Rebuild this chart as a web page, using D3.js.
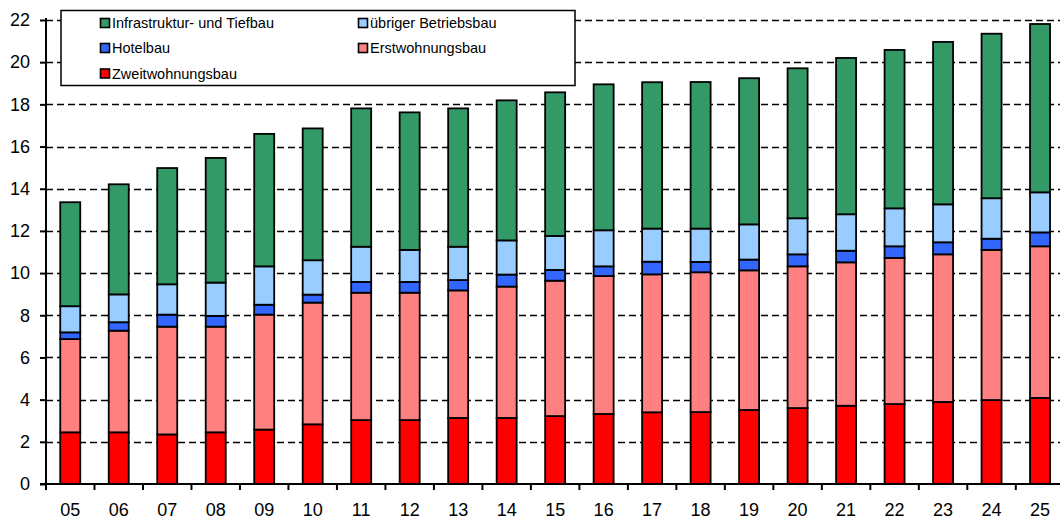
<!DOCTYPE html>
<html>
<head>
<meta charset="utf-8">
<script src="https://cdn.jsdelivr.net/npm/d3@7"></script>
<style>
  html, body { margin: 0; padding: 0; background: #fff; }
  svg { display: block; }
</style>
</head>
<body>
<svg id="chart" width="1060" height="520"></svg>
<script>
// Jahre (Kategorien)
const years = ["05","06","07","08","09","10","11","12","13","14","15","16","17","18","19","20","21","22","23","24","25"];

// Serienwerte je Jahr
const zweitwohnungsbau = [2.45,2.45,2.35,2.45,2.58,2.83,3.03,3.03,3.13,3.13,3.22,3.32,3.40,3.41,3.51,3.60,3.71,3.79,3.89,3.98,4.08];
const erstwohnungsbau  = [4.42,4.82,5.11,5.01,5.45,5.77,6.04,6.04,6.05,6.23,6.42,6.54,6.54,6.63,6.62,6.72,6.80,6.93,7.00,7.12,7.19];
const hotelbau         = [0.32,0.40,0.57,0.51,0.47,0.38,0.51,0.51,0.49,0.57,0.51,0.46,0.60,0.49,0.51,0.57,0.55,0.55,0.57,0.53,0.66];
const betriebsbau      = [1.24,1.32,1.44,1.58,1.82,1.63,1.67,1.52,1.58,1.62,1.61,1.71,1.57,1.58,1.67,1.71,1.73,1.80,1.80,1.92,1.90];
const infrastruktur    = [4.93,5.22,5.51,5.91,6.28,6.25,6.56,6.52,6.56,6.64,6.81,6.92,6.94,6.95,6.93,7.11,7.41,7.51,7.70,7.80,7.98];

// Achsenbeschriftung
const yTicks = [0,2,4,6,8,10,12,14,16,18,20,22];

// Serien von unten nach oben
const series = [
  { key: "zweit",   name: "Zweitwohnungsbau",             values: zweitwohnungsbau, color: "#ff0000" },
  { key: "erst",    name: "Erstwohnungsbau",              values: erstwohnungsbau,  color: "#ff8080" },
  { key: "hotel",   name: "Hotelbau",                     values: hotelbau,         color: "#3366ff" },
  { key: "betrieb", name: "übriger Betriebsbau",          values: betriebsbau,      color: "#99ccff" },
  { key: "infra",   name: "Infrastruktur- und Tiefbau",   values: infrastruktur,    color: "#339966" }
];

const rows = years.map((y, i) => {
  const r = { year: y };
  series.forEach(s => r[s.key] = s.values[i]);
  return r;
});

const svg = d3.select("#chart");
const x0 = 46, x1 = 46 + 21 * 48.49;
const yBottom = 484, yTop = 20;

const x = d3.scaleBand().domain(years).range([x0, x1]).paddingInner(0).paddingOuter(0);
const y = d3.scaleLinear().domain([0, 22]).range([yBottom, yTop]);

const font = "'Liberation Sans', Arial, sans-serif";

// Gitternetzlinien
svg.append("g")
  .selectAll("line")
  .data(yTicks.filter(d => d > 0))
  .join("line")
  .attr("x1", x0).attr("x2", 1060)
  .attr("y1", d => Math.round(y(d)) + 0.5).attr("y2", d => Math.round(y(d)) + 0.5)
  .attr("stroke", "#000")
  .attr("stroke-width", 1.7)
  .attr("stroke-dasharray", "7,4");

// Gestapelte Säulen
const stack = d3.stack().keys(series.map(s => s.key));
const stacked = stack(rows);
const barW = 20;

svg.append("g")
  .selectAll("g")
  .data(stacked)
  .join("g")
  .attr("fill", (d, i) => series[i].color)
  .selectAll("rect")
  .data(d => d)
  .join("rect")
  .attr("x", d => x(d.data.year) + x.bandwidth() / 2 - barW / 2)
  .attr("y", d => y(d[1]))
  .attr("width", barW)
  .attr("height", d => y(d[0]) - y(d[1]))
  .attr("stroke", "#000")
  .attr("stroke-width", 1.8);

// Y-Achse
const yAxis = d3.axisLeft(y).tickValues(yTicks).tickSize(6).tickPadding(10).tickFormat(d3.format("d"));
const gy = svg.append("g").attr("transform", `translate(${x0},0)`).call(yAxis);
gy.select(".domain").attr("stroke", "#000").attr("stroke-width", 2).attr("d", `M-6,${yBottom}H0V${yTop - 2}`);
gy.selectAll(".tick line").attr("stroke", "#000").attr("stroke-width", 2);
gy.selectAll(".tick text").attr("font-family", font).attr("font-size", 18).attr("fill", "#000");

// X-Achse
const xAxis = d3.axisBottom(x).tickSize(0).tickPadding(19);
const gx = svg.append("g").attr("transform", `translate(0,${yBottom})`).call(xAxis);
gx.select(".domain").attr("stroke", "#000").attr("stroke-width", 2).attr("d", `M${x0},0H1060`);
gx.selectAll(".tick text").attr("font-family", font).attr("font-size", 18).attr("fill", "#000");

// Teilstriche zwischen den Kategorien
svg.append("g")
  .selectAll("line")
  .data(years)
  .join("line")
  .attr("x1", d => x(d)).attr("x2", d => x(d))
  .attr("y1", yBottom).attr("y2", yBottom + 6)
  .attr("stroke", "#000").attr("stroke-width", 2);

// Legende
const legend = svg.append("g");
legend.append("rect")
  .attr("x", 61).attr("y", 10.5).attr("width", 514).attr("height", 75)
  .attr("fill", "#fff").attr("stroke", "#000").attr("stroke-width", 1.5);

const legendItems = [
  { s: series[4], col: 0, row: 0 },
  { s: series[3], col: 1, row: 0 },
  { s: series[2], col: 0, row: 1 },
  { s: series[1], col: 1, row: 1 },
  { s: series[0], col: 0, row: 2 }
];
const colX = [100, 358];
const rowY = [23, 48, 73.5];

const li = legend.selectAll("g.item").data(legendItems).join("g")
  .attr("transform", d => `translate(${colX[d.col]},${rowY[d.row]})`);
li.append("rect")
  .attr("x", 0.5).attr("y", -4.5).attr("width", 9).attr("height", 9)
  .attr("fill", d => d.s.color).attr("stroke", "#000").attr("stroke-width", 1.6);
li.append("text")
  .attr("x", 12).attr("y", 5.3)
  .attr("font-family", font).attr("font-size", 14.5).attr("fill", "#000")
  .text(d => d.s.name);
</script>
</body>
</html>
